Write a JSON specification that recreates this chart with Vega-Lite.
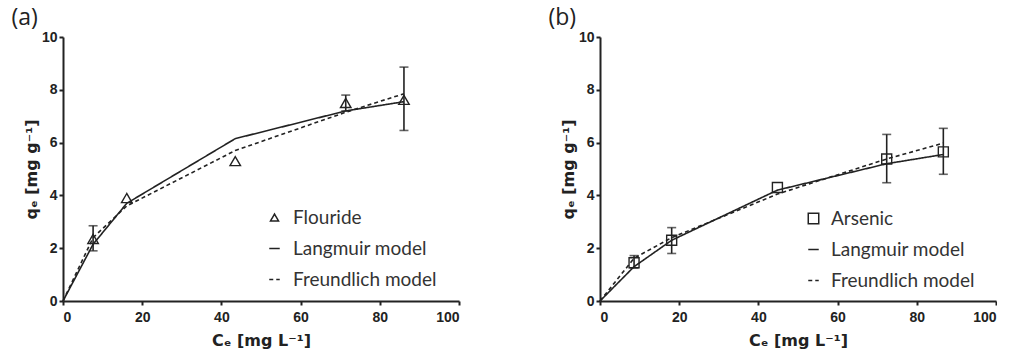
{
  "$schema": "https://vega.github.io/schema/vega-lite/v6.json",
  "background": "white",
  "padding": {"left": 11, "top": 7, "right": 0, "bottom": 2},
  "config": {
    "view": {"stroke": null},
    "axis": {
      "grid": false,
      "domainColor": "#222",
      "domainWidth": 2,
      "tickColor": "#222",
      "tickWidth": 2,
      "tickSize": 4,
      "labelFont": "Liberation Sans",
      "labelFontWeight": "bold",
      "labelFontSize": 14,
      "labelColor": "#222",
      "titleFont": "DejaVu Sans",
      "titleFontWeight": "bold",
      "titleFontSize": 16,
      "titleColor": "#222"
    },
    "axisX": {"labelPadding": 5, "titlePadding": 8},
    "axisY": {"labelPadding": 2, "titlePadding": 2},
    "legend": {
      "orient": "none",
      "labelFont": "Lato",
      "labelFontSize": 19,
      "labelColor": "#333",
      "symbolSize": 110,
      "symbolStrokeWidth": 1.5,
      "symbolStrokeColor": "#222",
      "rowPadding": 11,
      "padding": 0,
      "title": null
    },
    "title": {"font": "Open Sans", "fontSize": 23, "fontWeight": "normal", "color": "#222", "anchor": "start", "frame": "bounds"}
  },
  "datasets": {
    "aPts": [
      {"series": "Flouride", "x": 7.6, "y": 2.35, "lo": 1.9, "hi": 2.85},
      {"series": "Flouride", "x": 16.1, "y": 3.9},
      {"series": "Flouride", "x": 43.5, "y": 5.3},
      {"series": "Flouride", "x": 71.4, "y": 7.5, "lo": 7.2, "hi": 7.8},
      {"series": "Flouride", "x": 86.1, "y": 7.62, "lo": 6.46, "hi": 8.86}
    ],
    "aFit": [
      {"series": "Langmuir model", "x": 0, "y": 0},
      {"series": "Langmuir model", "x": 7.6, "y": 2.15},
      {"series": "Langmuir model", "x": 16.1, "y": 3.7},
      {"series": "Langmuir model", "x": 43.5, "y": 6.15},
      {"series": "Langmuir model", "x": 71.4, "y": 7.2},
      {"series": "Langmuir model", "x": 86.1, "y": 7.55},
      {"series": "Freundlich model", "x": 0, "y": 0},
      {"series": "Freundlich model", "x": 7.6, "y": 2.4},
      {"series": "Freundlich model", "x": 16.1, "y": 3.6},
      {"series": "Freundlich model", "x": 43.5, "y": 5.7},
      {"series": "Freundlich model", "x": 71.4, "y": 7.15},
      {"series": "Freundlich model", "x": 86.1, "y": 7.85}
    ],
    "bPts": [
      {"series": "Arsenic", "x": 8.6, "y": 1.45, "lo": 1.25, "hi": 1.72},
      {"series": "Arsenic", "x": 18.1, "y": 2.3, "lo": 1.8, "hi": 2.78},
      {"series": "Arsenic", "x": 44.8, "y": 4.3},
      {"series": "Arsenic", "x": 72.4, "y": 5.38, "lo": 4.48, "hi": 6.31},
      {"series": "Arsenic", "x": 86.7, "y": 5.65, "lo": 4.8, "hi": 6.54}
    ],
    "bFit": [
      {"series": "Langmuir model", "x": 0, "y": 0},
      {"series": "Langmuir model", "x": 8.6, "y": 1.3},
      {"series": "Langmuir model", "x": 18.1, "y": 2.3},
      {"series": "Langmuir model", "x": 44.8, "y": 4.2},
      {"series": "Langmuir model", "x": 72.4, "y": 5.2},
      {"series": "Langmuir model", "x": 86.7, "y": 5.55},
      {"series": "Freundlich model", "x": 0, "y": 0},
      {"series": "Freundlich model", "x": 8.6, "y": 1.62},
      {"series": "Freundlich model", "x": 18.1, "y": 2.4},
      {"series": "Freundlich model", "x": 44.8, "y": 4.05},
      {"series": "Freundlich model", "x": 72.4, "y": 5.38},
      {"series": "Freundlich model", "x": 86.7, "y": 5.98}
    ]
  },
  "spacing": 88,
  "resolve": {
    "scale": {"shape": "independent", "strokeDash": "independent", "x": "independent", "y": "independent"},
    "legend": {"shape": "independent", "strokeDash": "independent"}
  },
  "hconcat": [
    {
      "width": 396,
      "height": 264,
      "title": {"text": "(a)", "dx": -12, "offset": 0},
      "layer": [
        {
          "data": {"name": "aFit"},
          "mark": {"type": "line", "color": "#222", "strokeWidth": 1.6},
          "encoding": {
            "x": {"field": "x", "type": "quantitative", "scale": {"domain": [0, 100]}, "axis": {"values": [0, 20, 40, 60, 80, 100], "title": "Cₑ [mg L⁻¹]"}},
            "y": {"field": "y", "type": "quantitative", "scale": {"domain": [0, 10]}, "axis": {"values": [0, 2, 4, 6, 8, 10], "title": "qₑ [mg g⁻¹]"}},
            "strokeDash": {"field": "series", "type": "nominal", "scale": {"domain": ["Flouride", "Langmuir model", "Freundlich model"], "range": [[1, 0], [1, 0], [4, 3]]}, "legend": {"legendX": 202, "legendY": 171, "labelOffset": 9, "encode": {"symbols": {"update": {"size": {"signal": "datum.value === 'Flouride' ? 64 : 110"}}}}}}
          }
        },
        {
          "data": {"name": "aPts"},
          "mark": {"type": "rule", "color": "#222", "strokeWidth": 1.6},
          "encoding": {
            "x": {"field": "x", "type": "quantitative"},
            "y": {"field": "lo", "type": "quantitative"},
            "y2": {"field": "hi"}
          }
        },
        {
          "data": {"name": "aPts"},
          "mark": {"type": "tick", "orient": "horizontal", "color": "#222", "size": 9, "thickness": 1.6},
          "encoding": {
            "x": {"field": "x", "type": "quantitative"},
            "y": {"field": "lo", "type": "quantitative"}
          }
        },
        {
          "data": {"name": "aPts"},
          "mark": {"type": "tick", "orient": "horizontal", "color": "#222", "size": 9, "thickness": 1.6},
          "encoding": {
            "x": {"field": "x", "type": "quantitative"},
            "y": {"field": "hi", "type": "quantitative"}
          }
        },
        {
          "data": {"name": "aPts"},
          "mark": {"type": "point", "filled": false, "color": "#222", "size": 110, "strokeWidth": 1.4, "opacity": 1},
          "encoding": {
            "x": {"field": "x", "type": "quantitative"},
            "y": {"field": "y", "type": "quantitative"},
            "shape": {"field": "series", "type": "nominal", "scale": {"domain": ["Flouride", "Langmuir model", "Freundlich model"], "range": ["triangle-up", "stroke", "stroke"]}, "legend": {"legendX": 202, "legendY": 171, "labelOffset": 9, "encode": {"symbols": {"update": {"size": {"signal": "datum.value === 'Flouride' ? 64 : 110"}}}}}}
          }
        }
      ]
    },
    {
      "width": 396,
      "height": 264,
      "title": {"text": "(b)", "dx": -12, "offset": 0},
      "layer": [
        {
          "data": {"name": "bFit"},
          "mark": {"type": "line", "color": "#222", "strokeWidth": 1.6},
          "encoding": {
            "x": {"field": "x", "type": "quantitative", "scale": {"domain": [0, 100]}, "axis": {"values": [0, 20, 40, 60, 80, 100], "title": "Cₑ [mg L⁻¹]"}},
            "y": {"field": "y", "type": "quantitative", "scale": {"domain": [0, 10]}, "axis": {"values": [0, 2, 4, 6, 8, 10], "title": "qₑ [mg g⁻¹]"}},
            "strokeDash": {"field": "series", "type": "nominal", "scale": {"domain": ["Arsenic", "Langmuir model", "Freundlich model"], "range": [[1, 0], [1, 0], [4, 3]]}, "legend": {"legendX": 204, "legendY": 172, "labelOffset": 8}}
          }
        },
        {
          "data": {"name": "bPts"},
          "mark": {"type": "rule", "color": "#222", "strokeWidth": 1.6},
          "encoding": {
            "x": {"field": "x", "type": "quantitative"},
            "y": {"field": "lo", "type": "quantitative"},
            "y2": {"field": "hi"}
          }
        },
        {
          "data": {"name": "bPts"},
          "mark": {"type": "tick", "orient": "horizontal", "color": "#222", "size": 9, "thickness": 1.6},
          "encoding": {
            "x": {"field": "x", "type": "quantitative"},
            "y": {"field": "lo", "type": "quantitative"}
          }
        },
        {
          "data": {"name": "bPts"},
          "mark": {"type": "tick", "orient": "horizontal", "color": "#222", "size": 9, "thickness": 1.6},
          "encoding": {
            "x": {"field": "x", "type": "quantitative"},
            "y": {"field": "hi", "type": "quantitative"}
          }
        },
        {
          "data": {"name": "bPts"},
          "mark": {"type": "point", "filled": false, "color": "#222", "size": 100, "strokeWidth": 1.4, "opacity": 1},
          "encoding": {
            "x": {"field": "x", "type": "quantitative"},
            "y": {"field": "y", "type": "quantitative"},
            "shape": {"field": "series", "type": "nominal", "scale": {"domain": ["Arsenic", "Langmuir model", "Freundlich model"], "range": ["square", "stroke", "stroke"]}, "legend": {"legendX": 204, "legendY": 172, "labelOffset": 8}}
          }
        }
      ]
    }
  ]
}
